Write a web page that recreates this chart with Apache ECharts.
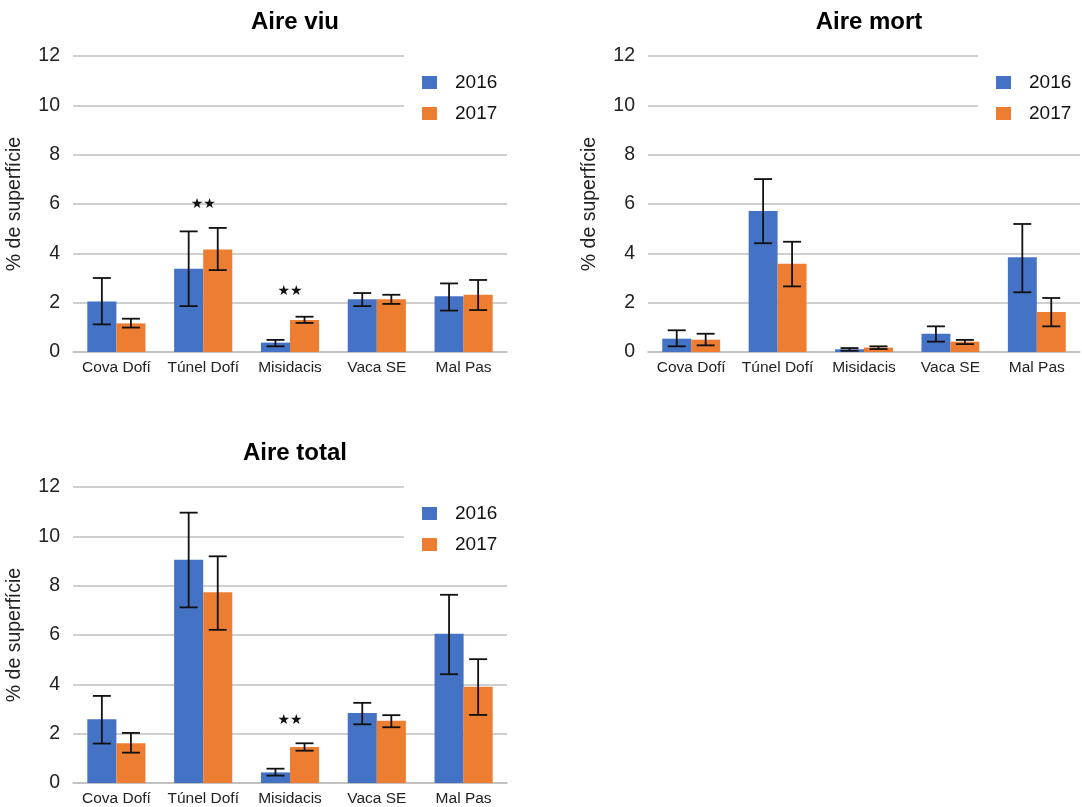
<!DOCTYPE html>
<html><head><meta charset="utf-8">
<script src="https://cdn.jsdelivr.net/npm/echarts@6/dist/echarts.min.js"></script>
<style>html,body{margin:0;padding:0;background:#fff}#c{width:1082px;height:807px}</style>
</head><body><div id="c"></div>
<script>
const categories = ['Cova Dofí', 'Túnel Dofí', 'Misidacis', 'Vaca SE', 'Mal Pas'];
const years = ['2016', '2017'];
const yTicks = [0, 2, 4, 6, 8, 10, 12];
const titles = ['Aire viu', 'Aire mort', 'Aire total'];

// Aire viu
const viu2016 = [2.05, 3.38, 0.38, 2.14, 2.26];
const viu2017 = [1.16, 4.16, 1.30, 2.14, 2.32];
const viu2016Low = [1.12, 1.86, 0.23, 1.86, 1.68];
const viu2016High = [3.00, 4.89, 0.49, 2.39, 2.78];
const viu2017Low = [0.99, 3.32, 1.18, 1.95, 1.70];
const viu2017High = [1.35, 5.03, 1.43, 2.32, 2.92];
const viuSig = [null, 6.0, 2.45, null, null];

// Aire mort
const mort2016 = [0.54, 5.72, 0.11, 0.74, 3.84];
const mort2017 = [0.50, 3.58, 0.18, 0.42, 1.62];
const mort2016Low = [0.23, 4.41, 0.05, 0.42, 2.42];
const mort2016High = [0.88, 7.01, 0.16, 1.04, 5.19];
const mort2017Low = [0.27, 2.66, 0.12, 0.32, 1.04];
const mort2017High = [0.74, 4.47, 0.23, 0.49, 2.19];
const mortSig = [null, null, null, null, null];

// Aire total
const total2016 = [2.58, 9.05, 0.43, 2.84, 6.05];
const total2017 = [1.61, 7.73, 1.46, 2.52, 3.90];
const total2016Low = [1.60, 7.12, 0.30, 2.38, 4.41];
const total2016High = [3.53, 10.96, 0.58, 3.25, 7.63];
const total2017Low = [1.23, 6.21, 1.31, 2.26, 2.76];
const total2017High = [2.03, 9.19, 1.61, 2.75, 5.02];
const totalSig = [null, null, 2.55, null, null];

const sigLabel = '★★';

const panels = [
  {v16: viu2016, v17: viu2017, l16: viu2016Low, h16: viu2016High, l17: viu2017Low, h17: viu2017High, sig: viuSig},
  {v16: mort2016, v17: mort2017, l16: mort2016Low, h16: mort2016High, l17: mort2017Low, h17: mort2017High, sig: mortSig},
  {v16: total2016, v17: total2017, l16: total2016Low, h16: total2016High, l17: total2017Low, h17: total2017High, sig: totalSig}
];

const colors = ['#4472C4', '#ED7D31'];
const GAP = 0.33;
const font = 'Liberation Sans, Arial, Helvetica, sans-serif';

const layout = [
  {left: 73, top: 56, width: 434, height: 296, legendLeft: 404, legendTop: 48},
  {left: 648, top: 56, width: 432, height: 296, legendLeft: 978, legendTop: 48},
  {left: 73, top: 487, width: 434, height: 296, legendLeft: 404, legendTop: 479}
];

const grid = [], xAxis = [], yAxis = [], title = [], legend = [], series = [];

function errorSeries(idx, lows, highs, side) {
  return {
    type: 'custom', xAxisIndex: idx, yAxisIndex: idx, silent: true, z: 5,
    data: categories.map((c, i) => [i, lows[i], highs[i]]),
    renderItem: function (params, api) {
      const band = api.size([1, 0])[0];
      const barW = band * (1 - GAP) / 2;
      const cx = api.coord([api.value(0), 0])[0] + side * barW / 2;
      const lo = api.coord([api.value(0), api.value(1)])[1];
      const hi = api.coord([api.value(0), api.value(2)])[1];
      const cap = 9;
      const st = {stroke: '#111', lineWidth: 1.8};
      return {type: 'group', children: [
        {type: 'line', shape: {x1: cx, y1: lo, x2: cx, y2: hi}, style: st},
        {type: 'line', shape: {x1: cx - cap, y1: lo, x2: cx + cap, y2: lo}, style: st},
        {type: 'line', shape: {x1: cx - cap, y1: hi, x2: cx + cap, y2: hi}, style: st}
      ]};
    }
  };
}

panels.forEach((p, k) => {
  const L = layout[k];
  grid.push({left: L.left, top: L.top, width: L.width, height: L.height, containLabel: false});
  title.push({text: titles[k], left: L.left + L.width / 2, top: L.top - 51, textAlign: 'center',
    textStyle: {fontFamily: font, fontSize: 24, fontWeight: 'bold', color: '#000'}});
  xAxis.push({type: 'category', gridIndex: k, data: categories,
    axisLine: {lineStyle: {color: '#bfbfbf', width: 1.5}}, axisTick: {show: false},
    axisLabel: {interval: 0, fontFamily: font, fontSize: 15.5, color: '#222', margin: 8}});
  yAxis.push({type: 'value', gridIndex: k, min: 0, max: 12, interval: 2,
    name: '% de superfície', nameLocation: 'middle', nameGap: 48, nameRotate: 90,
    nameTextStyle: {fontFamily: font, fontSize: 19.5, color: '#222'},
    axisLine: {show: false}, axisTick: {show: false},
    axisLabel: {fontFamily: font, fontSize: 19.5, color: '#222', margin: 13,
      formatter: v => yTicks.includes(v) ? String(v) : ''},
    splitLine: {lineStyle: {color: '#bfbfbf', width: 1.5}}});
  legend.push({data: years, orient: 'vertical', left: L.legendLeft, top: L.legendTop,
    backgroundColor: '#fff', padding: [25, 12, 14, 18], itemWidth: 15, itemHeight: 13, itemGap: 12,
    icon: 'rect', selectedMode: false, z: 10,
    textStyle: {fontFamily: font, fontSize: 19, color: '#111', padding: [0, 0, 0, 13]}});
  series.push({name: years[0], type: 'bar', xAxisIndex: k, yAxisIndex: k, data: p.v16,
    itemStyle: {color: colors[0]}, barGap: '0%', barCategoryGap: (GAP * 100) + '%'});
  series.push({name: years[1], type: 'bar', xAxisIndex: k, yAxisIndex: k, data: p.v17,
    itemStyle: {color: colors[1]}, barGap: '0%', barCategoryGap: (GAP * 100) + '%'});
  series.push(errorSeries(k, p.l16, p.h16, -1));
  series.push(errorSeries(k, p.l17, p.h17, 1));
  series.push({type: 'custom', xAxisIndex: k, yAxisIndex: k, silent: true, z: 6,
    data: p.sig.map((v, i) => v == null ? null : [i, v]).filter(d => d),
    renderItem: function (params, api) {
      const pt = api.coord([api.value(0), api.value(1)]);
      return {type: 'text', style: {x: pt[0], y: pt[1], text: sigLabel, align: 'center',
        verticalAlign: 'middle', font: '14px DejaVu Sans, sans-serif', fill: '#111'}};
    }});
});

const chart = echarts.init(document.getElementById('c'), null, {renderer: 'canvas'});
chart.setOption({animation: false, backgroundColor: '#fff', title, grid, xAxis, yAxis, legend, series});
</script></body></html>
